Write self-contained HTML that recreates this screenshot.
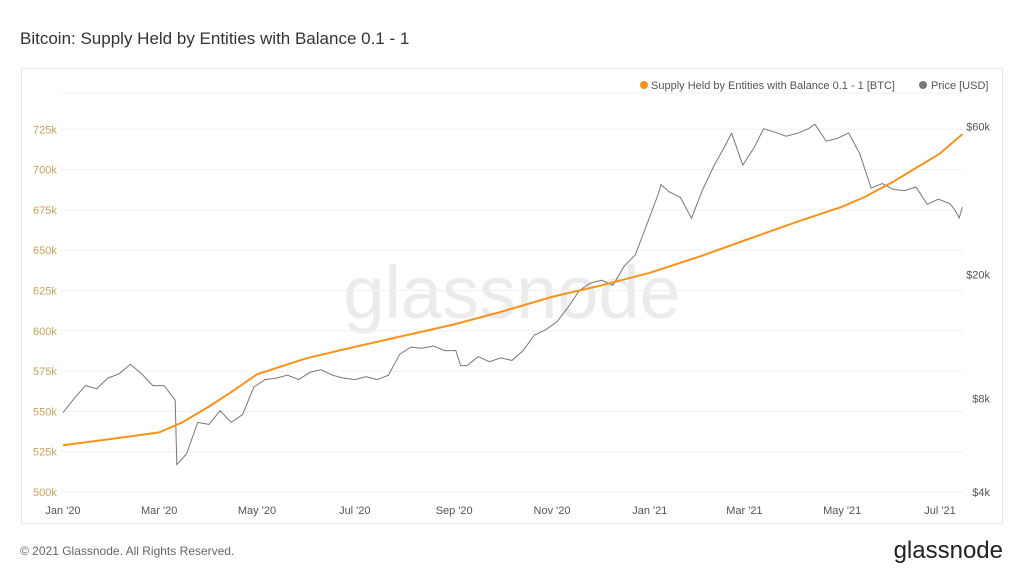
<!DOCTYPE html>
<html><head><meta charset="utf-8"><style>
body{margin:0;background:#fff;font-family:"Liberation Sans",sans-serif;}
#wrap{position:relative;width:1024px;height:576px;overflow:hidden;}
</style></head><body>
<div id="wrap">
<svg id="svg" width="1024" height="576" xmlns="http://www.w3.org/2000/svg">
<text x="20" y="44" font-size="17" fill="#333" font-family="Liberation Sans, sans-serif">Bitcoin: Supply Held by Entities with Balance 0.1 - 1</text>
<rect x="21.5" y="68.5" width="981" height="455" fill="none" stroke="#e6e6e6"/>
<text x="512" y="318" text-anchor="middle" font-size="74" fill="#ebebeb" font-family="Liberation Sans, sans-serif">glassnode</text>
<g id="grid"></g><g id="axes"></g><g id="series"></g>
<g>
<circle cx="644" cy="85" r="4" fill="#f7931a"/>
<text x="651" y="89" font-size="11" fill="#555">Supply Held by Entities with Balance 0.1 - 1 [BTC]</text>
<circle cx="923" cy="85" r="4" fill="#777"/>
<text x="931" y="89" font-size="11" fill="#555">Price [USD]</text>
</g>
<text x="20" y="555" font-size="12" fill="#666">© 2021 Glassnode. All Rights Reserved.</text>
<text x="1003" y="558" text-anchor="end" font-size="24" fill="#222">glassnode</text>
</svg>
</div>
<script>
const xTickLabels=["Jan '20","Mar '20","May '20","Jul '20","Sep '20","Nov '20","Jan '21","Mar '21","May '21","Jul '21"];
const xTickDates=["2020-01-01","2020-03-01","2020-05-01","2020-07-01","2020-09-01","2020-11-01","2021-01-01","2021-03-01","2021-05-01","2021-07-01"];
const leftTicks=[500,525,550,575,600,625,650,675,700,725];
const rightTicks=[4000,8000,20000,60000];
const rightTickLabels=["$4k","$8k","$20k","$60k"];
const supplyDates=["2020-01-01","2020-02-01","2020-03-01","2020-03-15","2020-04-01","2020-04-15","2020-05-01","2020-06-01","2020-07-01","2020-08-01","2020-09-01","2020-10-01","2020-11-01","2020-12-01","2021-01-01","2021-02-01","2021-03-01","2021-04-01","2021-05-01","2021-05-15","2021-06-01","2021-07-01","2021-07-15"];
const supplyValues=[529,533,537,543,553,562,573,583,590,597,604,612,621,628,636,646,656,667,677,683,692,710,722];
const priceDates=["2020-01-01","2020-01-08","2020-01-15","2020-01-22","2020-01-29","2020-02-05","2020-02-12","2020-02-19","2020-02-26","2020-03-04","2020-03-11","2020-03-12","2020-03-18","2020-03-25","2020-04-01","2020-04-08","2020-04-15","2020-04-22","2020-04-29","2020-05-06","2020-05-13","2020-05-20","2020-05-27","2020-06-03","2020-06-10","2020-06-17","2020-06-24","2020-07-01","2020-07-08","2020-07-15","2020-07-22","2020-07-29","2020-08-05","2020-08-12","2020-08-19","2020-08-26","2020-09-02","2020-09-05","2020-09-09","2020-09-16","2020-09-23","2020-09-30","2020-10-07","2020-10-14","2020-10-21","2020-10-28","2020-11-04","2020-11-11","2020-11-18","2020-11-25","2020-12-02","2020-12-09","2020-12-16","2020-12-23","2020-12-30","2021-01-06","2021-01-08","2021-01-13","2021-01-20","2021-01-27","2021-02-03","2021-02-10","2021-02-17","2021-02-21","2021-02-28","2021-03-07","2021-03-13","2021-03-20","2021-03-27","2021-04-03","2021-04-10","2021-04-14","2021-04-21","2021-04-28","2021-05-05","2021-05-12","2021-05-19","2021-05-26","2021-06-02","2021-06-09","2021-06-16","2021-06-23","2021-06-30","2021-07-07","2021-07-10","2021-07-13","2021-07-15"];
const priceValues=[7200,8000,8800,8600,9300,9600,10300,9600,8800,8800,7900,4900,5300,6700,6600,7300,6700,7100,8700,9200,9300,9500,9200,9700,9900,9500,9300,9200,9400,9200,9500,11100,11700,11600,11800,11400,11400,10200,10200,10900,10500,10800,10600,11400,12800,13300,14100,15700,17800,18800,19200,18500,21300,23200,28900,36000,39000,37000,35500,30400,37600,44800,52100,57000,45100,51200,59000,57500,55800,57000,59000,61000,53800,54900,57200,49000,38000,39300,37600,37300,38300,33700,35000,33900,32500,30500,33000];

const NS="http://www.w3.org/2000/svg";
const t0=Date.parse("2020-01-01"),t1=Date.parse("2021-07-01");
function xs(d){return 63+(Date.parse(d)-t0)/(t1-t0)*(940-63);}
function yl(v){return 492-(v-500)/25*40.3;}
function yr(p){return 492-135*Math.log(p/4000);}
function mk(tag,attrs,parent){const e=document.createElementNS(NS,tag);for(const k in attrs)e.setAttribute(k,attrs[k]);parent.appendChild(e);return e;}
const grid=document.getElementById('grid'),axes=document.getElementById('axes'),series=document.getElementById('series');
mk('line',{x1:60,x2:963,y1:93,y2:93,stroke:'#f0f0f0'},grid);
leftTicks.forEach(v=>{
 const l=mk('line',{x1:60,x2:963,y1:yl(v),y2:yl(v),stroke:'#f0f0f0'},grid);
 
 
 const t=mk('text',{x:33,y:yl(v)+4,'font-size':11,fill:'#c8a25a'},axes);
 t.textContent=v+'k';
 
 
});
rightTicks.forEach((p,i)=>{
 const t=mk('text',{x:990,y:yr(p)+4,'font-size':11,fill:'#555','text-anchor':'end'},axes);
 t.textContent=rightTickLabels[i];
 
 
});
xTickDates.forEach((d,i)=>{
 const t=mk('text',{x:xs(d),y:514,'font-size':11,fill:'#555','text-anchor':'middle'},axes);
 t.textContent=xTickLabels[i];
 
 
});
const pp=mk('path',{d:priceDates.map((d,i)=>(i?'L':'M')+xs(d).toFixed(1)+','+yr(priceValues[i]).toFixed(1)).join(''),fill:'none',stroke:'#777','stroke-width':1},series);


const sp=mk('path',{d:supplyDates.map((d,i)=>(i?'L':'M')+xs(d).toFixed(1)+','+yl(supplyValues[i]).toFixed(1)).join(''),fill:'none',stroke:'#f7931a','stroke-width':2},series);


</script>
</body></html>
